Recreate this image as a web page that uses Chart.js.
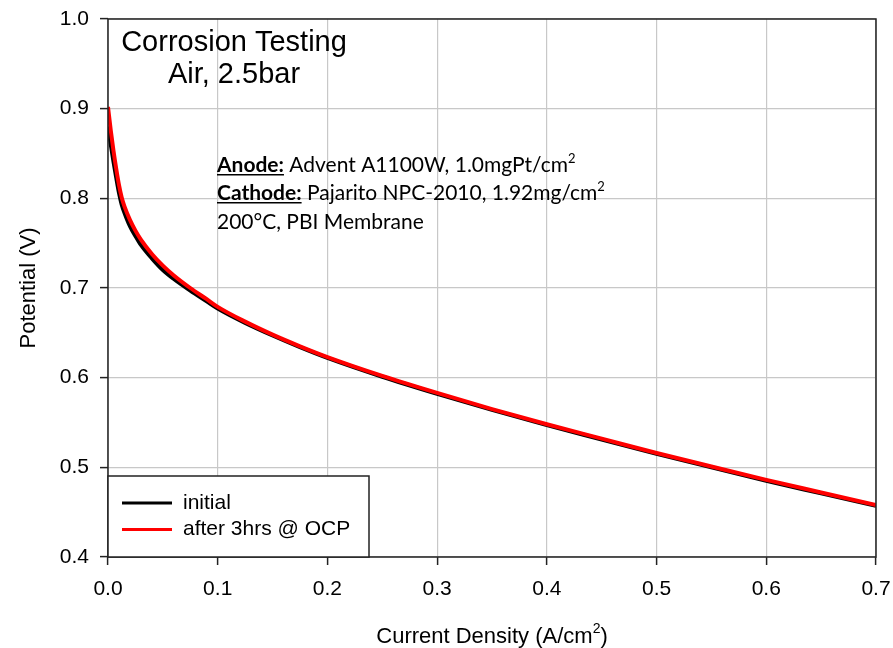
<!DOCTYPE html>
<html>
<head>
<meta charset="utf-8">
<script src="https://cdn.jsdelivr.net/npm/chart.js@4"></script>
<style>
  html, body { margin: 0; padding: 0; background: #fff; }
  canvas { display: block; }
</style>
</head>
<body>
<canvas id="chart" width="893" height="648"></canvas>
<script>
// current density (A/cm2) sampled along the polarization curves
const currentDensity = [0, 0.0025, 0.005, 0.0075, 0.01, 0.0125, 0.015, 0.02, 0.025, 0.03, 0.04, 0.05,
  0.06, 0.075, 0.09, 0.1, 0.125, 0.15, 0.175, 0.2, 0.25, 0.3, 0.35, 0.4, 0.45, 0.5, 0.55, 0.6, 0.65, 0.7];
const initialV = [0.880, 0.860, 0.841, 0.823, 0.806, 0.793, 0.784, 0.769, 0.758, 0.748, 0.733, 0.720,
  0.710, 0.697, 0.685, 0.677, 0.661, 0.647, 0.634, 0.622, 0.601, 0.582, 0.564, 0.547, 0.531, 0.515, 0.500, 0.485, 0.471, 0.457];
const afterOcpV = [0.902, 0.876, 0.853, 0.833, 0.815, 0.801, 0.791, 0.776, 0.764, 0.754, 0.738, 0.725,
  0.714, 0.700, 0.6875, 0.679, 0.6625, 0.648, 0.635, 0.623, 0.602, 0.583, 0.565, 0.548, 0.532, 0.516, 0.501, 0.486, 0.472, 0.458];

const seriesLabels = ["initial", "after 3hrs @ OCP"];
const seriesColors = ["#000000", "#ff0000"];
const xTicks = [0, 0.1, 0.2, 0.3, 0.4, 0.5, 0.6, 0.7];
const yTicks = [0.4, 0.5, 0.6, 0.7, 0.8, 0.9, 1.0];

const titleLines = ["Corrosion Testing", "Air, 2.5bar"];
const noteLines = [
  [{ t: "Anode:", b: true, u: true }, { t: " Advent A1100W, 1.0mgPt/cm" }, { t: "2", sup: true }],
  [{ t: "Cathode:", b: true, u: true }, { t: " Pajarito NPC-2010, 1.92mg/cm" }, { t: "2", sup: true }],
  [{ t: "200°C, PBI Membrane" }]
];

const ARIAL = "'Liberation Sans', Arial, sans-serif";
const NOTE_FONT = "Lato, 'Open Sans', sans-serif";

function toPoints(xs, ys) {
  return xs.map((x, i) => ({ x: x, y: ys[i] }));
}

function segFont(seg, size) {
  const s = seg.sup ? size * 0.62 : size;
  return (seg.b ? "bold " : "") + s + "px " + NOTE_FONT;
}

function lineWidth(ctx, segs, size) {
  let w = 0;
  segs.forEach(seg => {
    ctx.font = segFont(seg, size);
    w += ctx.measureText(seg.t).width;
  });
  return w;
}

function drawRich(ctx, segs, x, y, size) {
  ctx.textBaseline = "alphabetic";
  ctx.textAlign = "left";
  segs.forEach(seg => {
    ctx.font = segFont(seg, size);
    const w = ctx.measureText(seg.t).width;
    const yy = seg.sup ? y - size * 0.42 : y;
    ctx.fillText(seg.t, x, yy);
    if (seg.u) {
      ctx.fillRect(x, y + 2, w, 1.5);
    }
    x += w;
  });
}

const decorPlugin = {
  id: "decor",
  afterDraw(chart) {
    const ctx = chart.ctx;
    const a = chart.chartArea;
    ctx.save();
    ctx.fillStyle = "#000";

    // title block
    ctx.font = "29px " + ARIAL;
    ctx.textAlign = "center";
    ctx.textBaseline = "alphabetic";
    ctx.fillText(titleLines[0], 234, 51);
    ctx.fillText(titleLines[1], 234, 83);

    // notes, sized so the cathode line spans the same width as the picture
    const base = 20;
    const w = lineWidth(ctx, noteLines[1], base);
    const size = base * 388 / w;
    const baselines = [172, 200, 229];
    noteLines.forEach((segs, i) => drawRich(ctx, segs, 217, baselines[i], size));

    // frame
    ctx.strokeStyle = "#222";
    ctx.lineWidth = 1.5;
    ctx.strokeRect(a.left, a.top, a.right - a.left, a.bottom - a.top);

    // legend box
    const lx = a.left, ly = 476, lw = 261, lh = a.bottom - 476;
    ctx.fillStyle = "#fff";
    ctx.fillRect(lx, ly, lw, lh);
    ctx.strokeRect(lx, ly, lw, lh);
    const rows = [503, 529.5];
    chart.data.datasets.forEach((ds, i) => {
      ctx.strokeStyle = ds.borderColor;
      ctx.lineWidth = 3;
      ctx.beginPath();
      ctx.moveTo(lx + 14, rows[i]);
      ctx.lineTo(lx + 64, rows[i]);
      ctx.stroke();
      ctx.fillStyle = "#000";
      ctx.font = "21px " + ARIAL;
      ctx.textAlign = "left";
      ctx.textBaseline = "middle";
      ctx.fillText(ds.label, lx + 75, rows[i]);
    });

    // axis titles
    ctx.fillStyle = "#000";
    ctx.textAlign = "left";
    ctx.textBaseline = "alphabetic";
    const xt = "Current Density (A/cm";
    ctx.font = "22px " + ARIAL;
    const w1 = ctx.measureText(xt).width;
    ctx.font = "14px " + ARIAL;
    const w2 = ctx.measureText("2").width;
    ctx.font = "22px " + ARIAL;
    const w3 = ctx.measureText(")").width;
    const x0 = (a.left + a.right) / 2 - (w1 + w2 + w3) / 2;
    ctx.fillText(xt, x0, 643);
    ctx.font = "14px " + ARIAL;
    ctx.fillText("2", x0 + w1, 633);
    ctx.font = "22px " + ARIAL;
    ctx.fillText(")", x0 + w1 + w2, 643);

    ctx.translate(35, (a.top + a.bottom) / 2);
    ctx.rotate(-Math.PI / 2);
    ctx.textAlign = "center";
    ctx.fillText("Potential (V)", 0, 0);
    ctx.restore();
  }
};

new Chart(document.getElementById("chart"), {
  type: "line",
  data: {
    datasets: [
      {
        label: seriesLabels[0],
        data: toPoints(currentDensity, initialV),
        borderColor: seriesColors[0],
        borderWidth: 4,
        pointRadius: 0,
        cubicInterpolationMode: "monotone",
        order: 1
      },
      {
        label: seriesLabels[1],
        data: toPoints(currentDensity, afterOcpV),
        borderColor: seriesColors[1],
        borderWidth: 4,
        pointRadius: 0,
        cubicInterpolationMode: "monotone",
        order: 0
      }
    ]
  },
  options: {
    responsive: false,
    animation: false,
    layout: { padding: { top: 19, right: 17, left: 0, bottom: 0 } },
    plugins: {
      legend: { display: false },
      tooltip: { enabled: false }
    },
    scales: {
      x: {
        type: "linear",
        min: 0,
        max: 0.7,
        afterFit: (s) => { s.height = 91; s.paddingLeft = 0; s.paddingRight = 0; },
        afterBuildTicks: (s) => { s.ticks = xTicks.map(v => ({ value: v })); },
        ticks: {
          color: "#000",
          font: { family: ARIAL, size: 21 },
          padding: 12,
          maxRotation: 0,
          callback: (v) => v.toFixed(1)
        },
        grid: { color: "#c8c8c8", lineWidth: 1.2, tickLength: 8, tickColor: "#222", tickWidth: 1.5 },
        border: { display: false }
      },
      y: {
        min: 0.4,
        max: 1.0,
        afterFit: (s) => { s.width = 108; s.paddingTop = 0; s.paddingBottom = 0; },
        afterBuildTicks: (s) => { s.ticks = yTicks.map(v => ({ value: v })); },
        ticks: {
          color: "#000",
          font: { family: ARIAL, size: 21 },
          padding: 11,
          callback: (v) => v.toFixed(1)
        },
        grid: { color: "#c8c8c8", lineWidth: 1.2, tickLength: 8, tickColor: "#222", tickWidth: 1.5 },
        border: { display: false }
      }
    }
  },
  plugins: [decorPlugin]
});
</script>
</body>
</html>
